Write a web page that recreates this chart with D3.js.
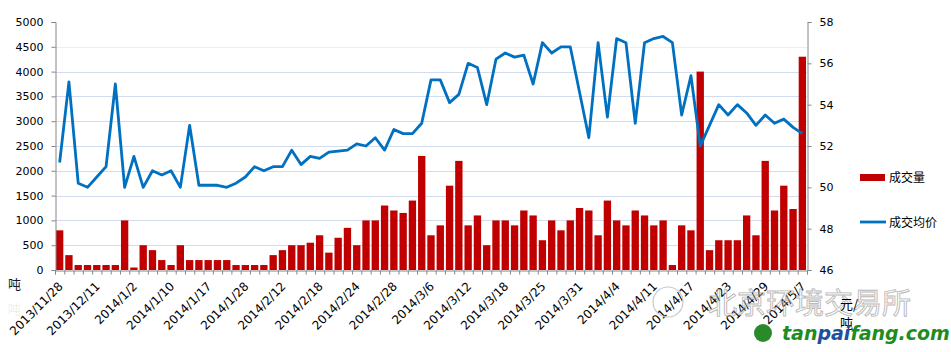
<!DOCTYPE html>
<html>
<head>
<meta charset="utf-8">
<script src="https://cdn.jsdelivr.net/npm/d3@7"></script>
<style>
  body { margin: 0; background: #fff; }
  svg { display: block; }
  text { font-family: "DejaVu Sans", sans-serif; }
</style>
</head>
<body>
<script>
// visible date labels, one every 4th trading day
var dateLabels = [
  "2013/11/28", "2013/12/11", "2014/1/2", "2014/1/10", "2014/1/17",
  "2014/1/28", "2014/2/12", "2014/2/18", "2014/2/24", "2014/2/28",
  "2014/3/6", "2014/3/12", "2014/3/18", "2014/3/25", "2014/3/31",
  "2014/4/4", "2014/4/11", "2014/4/17", "2014/4/23", "2014/4/29",
  "2014/5/7"
];

// 成交量 (吨)
var volume = [
  800, 300, 100, 100, 100, 100, 100, 1000, 50, 500,
  400, 200, 100, 500, 200, 200, 200, 200, 200, 100,
  100, 100, 100, 300, 400, 500, 500, 550, 700, 350,
  650, 850, 500, 1000, 1000, 1300, 1200, 1150, 1400, 2300,
  700, 900, 1700, 2200, 900, 1100, 500, 1000, 1000, 900,
  1200, 1100, 600, 1000, 800, 1000, 1250, 1200, 700, 1400,
  1000, 900, 1200, 1100, 900, 1000, 100, 900, 800, 4000,
  400, 600, 600, 600, 1100, 700, 2200, 1200, 1700, 1230,
  4300
];

// 成交均价 (元/吨)
var price = [
  51.2, 55.1, 50.2, 50.0, 50.5, 51.0, 55.0, 50.0, 51.5, 50.0,
  50.8, 50.6, 50.8, 50.0, 53.0, 50.1, 50.1, 50.1, 50.0, 50.2,
  50.5, 51.0, 50.8, 51.0, 51.0, 51.8, 51.1, 51.5, 51.4, 51.7,
  51.75, 51.8, 52.1, 52.0, 52.4, 51.8, 52.8, 52.6, 52.6, 53.1,
  55.2, 55.2, 54.1, 54.5, 56.0, 55.8, 54.0, 56.2, 56.5, 56.3,
  56.4, 55.0, 57.0, 56.5, 56.8, 56.8, 54.6, 52.4, 57.0, 53.4,
  57.2, 57.0, 53.1, 57.0, 57.2, 57.3, 57.0, 53.5, 55.4, 52.0,
  53.0, 54.0, 53.5, 54.0, 53.6, 53.0, 53.5, 53.1, 53.3, 52.9,
  52.6
];

var volTicks = [0, 500, 1000, 1500, 2000, 2500, 3000, 3500, 4000, 4500, 5000];
var priceTicks = [46, 48, 50, 52, 54, 56, 58];

var width = 951, height = 352;
var plotLeft = 55, plotRight = 807, plotTop = 22, plotBottom = 270;

var svg = d3.select("body").append("svg")
  .attr("width", width)
  .attr("height", height);

var x = d3.scaleBand()
  .domain(d3.range(volume.length))
  .range([plotLeft, plotRight])
  .paddingInner(0.21)
  .paddingOuter(0.105);

// boundaries between categories, for the tick marks
var xEdge = d3.scaleLinear().domain([0, volume.length]).range([plotLeft, plotRight]);

var yVol = d3.scaleLinear().domain([0, 5000]).range([plotBottom, plotTop]);
var yPrice = d3.scaleLinear().domain([46, 58]).range([plotBottom, plotTop]);

// gridlines
svg.append("g")
  .selectAll("line")
  .data(volTicks.filter(function (v) { return v > 0 && v < 5000; }))
  .enter()
  .append("line")
  .attr("x1", plotLeft)
  .attr("x2", plotRight)
  .attr("y1", function (d) { return Math.round(yVol(d)) + 0.5; })
  .attr("y2", function (d) { return Math.round(yVol(d)) + 0.5; })
  .attr("stroke", function (d) { return d === 4500 ? "#e9edf6" : "#d3dcee"; })
  .attr("stroke-width", 1);

// bars
svg.append("g")
  .selectAll("rect")
  .data(volume)
  .enter()
  .append("rect")
  .attr("x", function (d, i) { return x(i); })
  .attr("y", function (d) { return yVol(d); })
  .attr("width", x.bandwidth())
  .attr("height", function (d) { return plotBottom - yVol(d); })
  .attr("fill", "#c00000");

// price line
var line = d3.line()
  .x(function (d, i) { return x(i) + x.bandwidth() / 2; })
  .y(function (d) { return yPrice(d); });

svg.append("path")
  .datum(price)
  .attr("d", line)
  .attr("fill", "none")
  .attr("stroke", "#0070c0")
  .attr("stroke-width", 2.8)
  .attr("stroke-linejoin", "round");

// axes
var axisColor = "#868686";

var gLeft = svg.append("g")
  .attr("transform", "translate(" + (plotLeft + 0.5) + ",0)")
  .call(d3.axisLeft(yVol).tickValues(volTicks).tickSize(4).tickPadding(8)
    .tickFormat(d3.format("d")));

var gRight = svg.append("g")
  .attr("transform", "translate(" + (plotRight + 0.5) + ",0)")
  .call(d3.axisRight(yPrice).tickValues(priceTicks).tickSize(4).tickPadding(8));

var gBottom = svg.append("g")
  .attr("transform", "translate(0," + (plotBottom + 0.5) + ")")
  .call(d3.axisBottom(xEdge).tickValues(d3.range(volume.length + 1))
    .tickSize(4).tickFormat(""));

[gLeft, gRight, gBottom].forEach(function (g) {
  g.select(".domain").attr("stroke", axisColor);
  g.selectAll(".tick line").attr("stroke", axisColor);
  g.selectAll("text")
    .style("font-family", "DejaVu Sans, sans-serif")
    .style("font-size", "11px")
    .attr("fill", "#000");
});

// rotated date labels
svg.append("g")
  .selectAll("text")
  .data(dateLabels)
  .enter()
  .append("text")
  .attr("transform", function (d, i) {
    var cx = x(i * 4) + x.bandwidth() / 2;
    return "translate(" + (cx + 4) + "," + (plotBottom + 17) + ") rotate(-45)";
  })
  .attr("text-anchor", "end")
  .style("font-size", "12px")
  .attr("fill", "#000")
  .text(function (d) { return d; });

// unit labels
svg.append("text")
  .attr("x", 8).attr("y", 289)
  .style("font-family", "Noto Sans CJK SC")
  .style("font-size", "13px")
  .attr("fill", "#1a1a1a")
  .text("吨");
svg.append("text")
  .attr("x", 8).attr("y", 314)
  .style("font-family", "Noto Sans CJK SC")
  .style("font-size", "13px")
  .attr("fill", "#eef2e2")
  .text("吨");

// legend
svg.append("rect")
  .attr("x", 860).attr("y", 174)
  .attr("width", 25).attr("height", 7)
  .attr("fill", "#c00000");
svg.append("text")
  .attr("x", 889).attr("y", 182)
  .style("font-family", "Noto Sans CJK SC")
  .style("font-size", "12px")
  .text("成交量");
svg.append("line")
  .attr("x1", 860).attr("x2", 886)
  .attr("y1", 222).attr("y2", 222)
  .attr("stroke", "#0070c0")
  .attr("stroke-width", 2.8);
svg.append("text")
  .attr("x", 889).attr("y", 227)
  .style("font-family", "Noto Sans CJK SC")
  .style("font-size", "12px")
  .text("成交均价");

// watermark
svg.append("text")
  .attr("x", 708).attr("y", 314)
  .style("font-family", "Noto Sans CJK SC")
  .style("font-size", "29px")
  .attr("fill", "none")
  .attr("stroke", "#a8a8a8")
  .attr("stroke-width", 0.9)
  .attr("opacity", 0.8)
  .text("北京环境交易所");
svg.append("circle")
  .attr("cx", 668).attr("cy", 302).attr("r", 15)
  .attr("fill", "none")
  .attr("stroke", "#c8c8c8")
  .attr("stroke-width", 1.2);

svg.append("text")
  .attr("x", 840).attr("y", 309)
  .style("font-family", "Noto Sans CJK SC")
  .style("font-size", "13px")
  .text("元/");
svg.append("text")
  .attr("x", 840).attr("y", 328)
  .style("font-family", "Noto Sans CJK SC")
  .style("font-size", "13px")
  .text("吨");

svg.append("circle")
  .attr("cx", 763).attr("cy", 333).attr("r", 9)
  .attr("fill", "#2a8a2a");
var site = svg.append("text")
  .attr("x", 782).attr("y", 340)
  .style("font-family", "DejaVu Sans")
  .style("font-size", "19px")
  .style("font-weight", "bold")
  .style("font-style", "italic");
site.append("tspan").attr("fill", "#1f8c1f").text("tan");
site.append("tspan").attr("fill", "#1f4f9f").text("pai");
site.append("tspan").attr("fill", "#1f8c1f").text("fang.com");
</script>
</body>
</html>
